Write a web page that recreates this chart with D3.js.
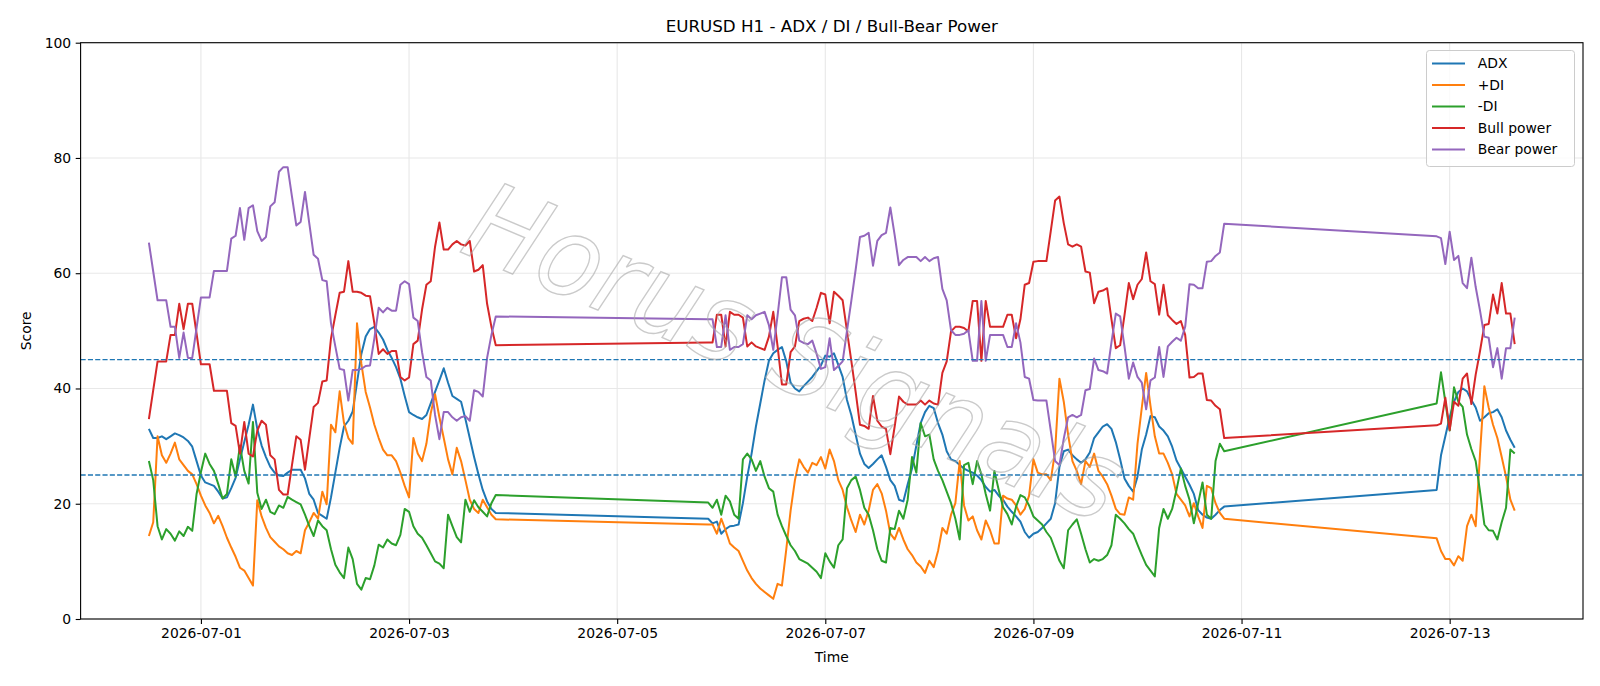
<!DOCTYPE html>
<html>
<head>
<meta charset="utf-8">
<script src="https://cdn.jsdelivr.net/npm/d3@7/dist/d3.min.js"></script>
<style>
  body { margin: 0; background: #ffffff; }
  svg text { font-family: "DejaVu Sans", "Liberation Sans", sans-serif; fill: #000; }
</style>
</head>
<body>
<svg id="chart" width="1600" height="686"></svg>
<script>
// Hourly bars (UTC), three blocks separated by the weekends
const segmentStarts = ["2026-06-30T12:00:00Z", "2026-07-05T21:00:00Z", "2026-07-12T21:00:00Z"];
const segmentLengths = [81, 120, 19];

// ADX
const adx = [
  33.0, 31.4, 31.4, 31.7, 31.2, 31.7, 32.2, 31.9, 31.5, 30.9,
  29.9, 27.4, 24.9, 23.7, 23.4, 23.1, 22.1, 20.9, 21.1, 22.7,
  24.5, 27.7, 30.7, 33.7, 37.2, 33.0, 30.1, 28.1, 26.4, 25.4,
  24.9, 24.8, 25.4, 25.9, 25.9, 25.9, 24.4, 21.7, 20.7, 18.4,
  17.9, 17.4, 21.1, 25.4, 29.7, 33.4, 34.4, 36.0, 41.0, 46.0,
  49.0, 50.3, 50.7, 49.7, 48.5, 46.7, 45.3, 43.7, 41.7, 38.7,
  35.9, 35.4, 35.0, 34.7, 35.4, 37.4, 39.4, 41.4, 43.5, 41.0,
  38.7, 38.2, 37.7, 34.7, 31.4, 28.1, 25.1, 22.4, 20.4, 19.1,
  18.4,
  // week 2
  17.4, 16.6, 16.9, 14.8, 15.6, 16.1, 16.2, 16.4, 20.1, 24.7,
  28.7, 33.4, 37.4, 41.4, 44.8, 46.1, 46.7, 47.2, 44.7, 41.0,
  40.0, 39.5, 40.4, 41.2, 42.0, 43.0, 44.0, 45.7, 45.5, 46.1,
  44.1, 42.0, 38.0, 35.4, 32.0, 28.7, 26.9, 26.2, 26.9, 27.7,
  28.4, 26.4, 24.1, 23.1, 20.7, 20.4, 23.4, 26.1, 30.1, 34.0,
  35.9, 37.0, 36.6, 34.0, 32.0, 29.1, 27.7, 27.4, 26.7, 26.1,
  25.7, 25.4, 24.9, 24.1, 22.9, 22.1, 22.4, 21.4, 20.7, 19.5,
  18.6, 17.8, 16.9, 15.1, 14.1, 14.8, 15.1, 15.8, 16.6, 17.4,
  20.1,
  26.4, 29.1, 29.4, 28.4, 27.7, 27.1, 27.7, 28.9, 31.4, 32.4,
  33.4, 33.8, 33.0, 30.7, 27.7, 24.4, 23.1, 22.1, 24.7, 29.4,
  32.0, 35.2, 35.0, 33.4, 32.7, 31.7, 29.9, 27.5, 26.1, 24.7,
  23.3, 21.7, 18.9, 18.1, 17.6, 17.4, 18.1, 18.9, 19.5,
  // week 3
  22.4, 28.4, 31.7, 35.0, 37.7, 39.4, 40.0, 39.5, 38.0, 36.7,
  34.4, 35.0, 35.7, 35.9, 36.4, 35.0, 32.7, 31.1, 29.7
];

// +DI
const plusDI = [
  14.4, 16.8, 31.7, 28.4, 27.1, 28.7, 30.6, 27.7, 26.7, 25.7,
  25.1, 23.4, 21.4, 19.7, 18.4, 16.6, 17.9, 16.1, 14.1, 12.4,
  10.8, 8.9, 8.4, 7.1, 5.8, 20.6, 17.8, 15.8, 14.2, 13.4,
  12.6, 12.1, 11.4, 11.1, 11.8, 11.4, 15.4, 16.8, 18.4, 17.4,
  22.1, 19.9, 33.7, 32.4, 39.5, 34.0, 31.4, 30.4, 51.3, 44.3,
  39.4, 36.7, 33.7, 31.4, 29.4, 28.4, 28.4, 27.4, 25.4, 23.1,
  21.1, 31.4, 28.7, 27.4, 30.4, 35.7, 39.0, 35.0, 31.4, 27.7,
  25.1, 29.7, 27.4, 24.1, 20.7, 19.1, 18.4, 20.7, 19.4, 18.1,
  17.3,
  // week 2
  16.4, 16.4, 14.8, 17.4, 15.4, 13.1, 12.4, 11.8, 10.1, 8.4,
  7.1, 6.1, 5.3, 4.7, 4.1, 3.5, 6.1, 5.8, 12.1, 18.8,
  24.1, 27.7, 26.4, 25.4, 27.1, 26.7, 28.1, 26.1, 29.4, 27.4,
  24.1, 22.4, 19.4, 17.1, 15.1, 18.1, 16.4, 18.8, 22.4, 23.4,
  21.8, 18.8, 14.8, 13.8, 15.8, 13.8, 12.1, 11.1, 9.8, 9.1,
  8.0, 10.1, 9.0, 11.8, 15.8, 14.8, 18.1, 20.1, 27.4, 19.7,
  17.1, 17.8, 15.4, 13.8, 17.1, 15.4, 13.1, 13.1, 21.4, 20.9,
  20.7, 19.7, 18.1, 19.1, 21.4, 27.7, 25.4, 25.1, 25.1, 24.1,
  29.1,
  41.7, 37.7, 32.0, 27.4, 25.7, 23.4, 27.4, 26.4, 28.7, 25.7,
  24.7, 23.4, 21.4, 19.1, 18.2, 18.1, 21.1, 20.7, 30.4, 36.7,
  42.7, 37.0, 31.7, 28.7, 28.7, 27.1, 25.1, 21.7, 20.7, 19.7,
  17.8, 20.1, 17.8, 15.8, 23.1, 22.7, 20.1, 18.4, 17.4,
  // week 3
  14.0, 11.8, 10.4, 10.4, 9.3, 10.9, 10.1, 16.1, 18.1, 16.1,
  28.7, 40.4, 36.7, 33.7, 31.4, 28.1, 24.7, 20.7, 18.8
];

// -DI
const minusDI = [
  27.4, 24.1, 16.1, 13.8, 15.6, 14.8, 13.6, 15.2, 14.4, 16.0,
  15.3, 21.7, 25.5, 28.7, 26.9, 25.7, 23.4, 20.9, 21.7, 27.7,
  24.7, 30.1, 25.7, 23.5, 34.2, 21.9, 19.1, 20.7, 18.6, 18.2,
  19.7, 19.3, 21.2, 20.7, 20.3, 19.9, 18.1, 16.1, 14.4, 17.1,
  16.1, 15.4, 12.1, 9.4, 8.1, 7.1, 12.4, 10.4, 6.1, 5.1,
  7.1, 6.9, 9.3, 12.9, 12.4, 13.8, 13.1, 12.8, 14.6, 19.1,
  18.6, 16.1, 14.8, 14.1, 12.8, 11.4, 10.0, 9.6, 8.8, 18.1,
  16.1, 14.2, 13.3, 20.7, 18.6, 20.6, 19.4, 18.6, 17.8, 20.1,
  21.5,
  // week 2
  20.2, 19.3, 20.7, 18.1, 21.4, 20.4, 18.1, 17.4, 27.7, 28.7,
  27.7, 25.7, 27.4, 24.7, 22.7, 22.1, 18.1, 16.1, 14.4, 12.8,
  11.8, 10.4, 10.0, 9.6, 8.9, 8.2, 7.1, 11.4, 10.0, 8.9,
  12.8, 13.8, 22.7, 24.1, 24.7, 22.4, 19.3, 18.1, 15.4, 12.1,
  10.1, 9.8, 15.8, 15.6, 18.8, 17.4, 20.7, 28.1, 25.4, 34.0,
  31.7, 32.0, 27.7, 25.7, 24.1, 22.1, 20.1, 17.4, 13.8, 26.7,
  27.1, 23.4, 27.4, 25.1, 21.7, 18.8, 25.7, 22.4, 19.4, 18.2,
  16.4, 19.5, 21.5, 21.1, 19.7, 17.8, 17.1, 16.4, 15.1, 14.1,
  12.1,
  10.1, 8.8, 15.4, 16.4, 17.3, 14.8, 12.1, 9.8, 10.4, 10.1,
  10.4, 11.1, 12.8, 18.1, 17.4, 16.6, 15.6, 14.8, 12.9, 11.1,
  9.4, 8.4, 7.4, 15.8, 19.1, 17.4, 19.1, 22.4, 26.1, 23.1,
  20.7, 16.6, 20.1, 23.7, 18.1, 17.4, 27.4, 30.4, 29.1,
  // week 3
  37.4, 42.8, 37.7, 32.7, 40.2, 37.7, 36.8, 32.0, 29.5, 27.4,
  22.1, 16.4, 15.4, 15.3, 13.8, 16.8, 19.3, 29.4, 28.7
];

// Bull power
const bullPower = [
  34.7, 39.7, 44.7, 44.7, 44.7, 49.3, 49.3, 54.7, 50.3, 54.7,
  54.7, 49.5, 44.2, 44.2, 44.2, 39.6, 39.6, 39.6, 39.6, 34.0,
  33.5, 28.7, 34.2, 28.7, 28.2, 32.7, 34.4, 33.7, 28.4, 27.7,
  22.4, 21.6, 21.6, 26.7, 31.7, 31.1, 25.9, 31.4, 36.8, 37.5,
  41.2, 41.4, 48.7, 52.7, 56.6, 56.8, 62.1, 56.8, 56.8, 56.6,
  56.1, 56.0, 51.3, 46.0, 46.8, 46.0, 46.5, 46.5, 42.0, 41.4,
  41.9, 47.7, 48.3, 53.7, 58.0, 58.6, 64.6, 68.8, 64.1, 64.1,
  65.0, 65.6, 65.0, 64.8, 65.6, 60.3, 60.6, 61.4, 54.7, 50.7,
  47.5,
  // week 2
  48.0, 48.0, 52.8, 52.8, 47.3, 53.3, 52.8, 52.8, 52.3, 47.3,
  48.0, 47.3, 47.0, 46.7, 49.0, 53.3, 47.3, 40.7, 40.7, 46.3,
  47.3, 51.7, 52.1, 52.3, 51.7, 54.0, 56.6, 56.3, 51.3, 56.8,
  56.1, 55.3, 50.0, 44.8, 39.4, 33.7, 33.5, 33.0, 38.7, 34.4,
  33.4, 33.0, 28.6, 33.4, 38.6, 37.7, 37.2, 37.2, 37.2, 37.9,
  37.2, 37.9, 37.4, 37.2, 42.7, 44.7, 49.9, 50.7, 50.7, 50.5,
  49.9, 55.2, 55.2, 44.8, 55.2, 50.7, 50.7, 50.7, 50.7, 52.8,
  52.8, 48.7, 52.0, 58.0, 58.3, 62.0, 62.1, 62.1, 62.1, 67.3,
  72.6,
  73.3, 68.7, 65.0, 64.6, 65.0, 64.6, 60.3, 60.1, 54.8, 56.8,
  57.0, 57.4, 52.0, 47.0, 47.5, 52.7, 58.3, 55.5, 58.0, 59.0,
  63.6, 58.6, 58.1, 52.8, 58.0, 52.7, 51.9, 51.2, 51.7, 49.3,
  41.9, 42.0, 42.6, 42.6, 38.0, 37.9, 37.0, 36.4, 31.4,
  // week 3
  33.6, 33.9, 38.4, 32.8, 37.7, 37.0, 41.7, 42.6, 37.3, 42.4,
  46.5, 51.0, 51.2, 56.3, 53.0, 58.3, 53.0, 53.0, 47.7
];

// Bear power
const bearPower = [
  65.3, 60.3, 55.3, 55.3, 55.3, 50.7, 50.7, 45.3, 49.7, 45.3,
  45.3, 50.5, 55.8, 55.8, 55.8, 60.4, 60.4, 60.4, 60.4, 66.0,
  66.5, 71.3, 65.8, 71.3, 71.8, 67.3, 65.6, 66.3, 71.6, 72.3,
  77.6, 78.4, 78.4, 73.3, 68.3, 68.9, 74.1, 68.6, 63.2, 62.5,
  58.8, 58.6, 51.3, 47.3, 43.4, 43.2, 37.9, 43.2, 43.2, 43.4,
  43.9, 44.0, 48.7, 54.0, 53.2, 54.0, 53.5, 53.5, 58.0, 58.6,
  58.1, 52.3, 51.7, 46.3, 42.0, 41.4, 35.4, 31.2, 35.9, 35.9,
  35.0, 34.4, 35.0, 35.2, 34.4, 39.7, 39.4, 38.6, 45.3, 49.3,
  52.5,
  // week 2
  52.0, 52.0, 47.2, 47.2, 52.7, 46.7, 47.2, 47.2, 47.7, 52.7,
  52.0, 52.7, 53.0, 53.3, 51.0, 46.7, 52.7, 59.3, 59.3, 53.7,
  52.7, 48.3, 47.9, 47.7, 48.3, 46.0, 43.4, 43.7, 48.7, 43.2,
  43.9, 44.7, 50.0, 55.2, 60.6, 66.3, 66.5, 67.0, 61.3, 65.6,
  66.6, 67.0, 71.4, 66.6, 61.4, 62.3, 62.8, 62.8, 62.8, 62.1,
  62.8, 62.1, 62.6, 62.8, 57.3, 55.3, 50.1, 49.3, 49.3, 49.5,
  50.1, 44.8, 44.8, 55.2, 44.8, 49.3, 49.3, 49.3, 49.3, 47.2,
  47.2, 51.3, 48.0, 42.0, 41.7, 38.0, 37.9, 37.9, 37.9, 32.7,
  27.4,
  26.7, 31.3, 35.0, 35.4, 35.0, 35.4, 39.7, 39.9, 45.2, 43.2,
  43.0, 42.6, 48.0, 53.0, 52.5, 47.3, 41.7, 44.5, 42.0, 41.0,
  36.4, 41.4, 41.9, 47.2, 42.0, 47.3, 48.1, 48.8, 48.3, 50.7,
  58.1, 58.0, 57.4, 57.4, 62.0, 62.1, 63.0, 63.6, 68.6,
  // week 3
  66.4, 66.1, 61.6, 67.2, 62.3, 63.0, 58.3, 57.4, 62.7, 57.6,
  53.5, 49.0, 48.8, 43.7, 47.0, 41.7, 47.0, 47.0, 52.3
];

const seriesNames = ["ADX", "+DI", "-DI", "Bull power", "Bear power"];
const seriesColors = ["#1f77b4", "#ff7f0e", "#2ca02c", "#d62728", "#9467bd"];
const thresholds = [25, 45];
const yTicks = [0, 20, 40, 60, 80, 100];
const xTickLabels = ["2026-07-01", "2026-07-03", "2026-07-05", "2026-07-07", "2026-07-09", "2026-07-11", "2026-07-13"];

// Timestamps of every bar
const times = [];
segmentStarts.forEach(function (s, i) {
  const start = new Date(s).getTime();
  for (let k = 0; k < segmentLengths[i]; k++) {
    times.push(new Date(start + k * 3600 * 1000));
  }
});

const allSeries = [adx, plusDI, minusDI, bullPower, bearPower];

// Plot area
const plotLeft = 80.6, plotRight = 1583, plotTop = 42.7, plotBottom = 619;

const svg = d3.select("#chart");

// X domain with 5% margins, like the original
const tFirst = times[0].getTime();
const tLast = times[times.length - 1].getTime();
const tPad = (tLast - tFirst) * 0.05;
const x = d3.scaleUtc()
  .domain([new Date(tFirst - tPad), new Date(tLast + tPad)])
  .range([plotLeft, plotRight]);

const y = d3.scaleLinear()
  .domain([0, 100])
  .range([plotBottom, plotTop]);

const xTickDates = xTickLabels.map(function (d) { return new Date(d + "T00:00:00Z"); });

// Grid
const grid = svg.append("g");
grid.selectAll(".vgrid")
  .data(xTickDates)
  .enter().append("line")
  .attr("x1", d => x(d)).attr("x2", d => x(d))
  .attr("y1", plotTop).attr("y2", plotBottom)
  .attr("stroke", "#e8e8e8").attr("stroke-width", 1.1);
grid.selectAll(".hgrid")
  .data(yTicks)
  .enter().append("line")
  .attr("x1", plotLeft).attr("x2", plotRight)
  .attr("y1", d => y(d)).attr("y2", d => y(d))
  .attr("stroke", "#e8e8e8").attr("stroke-width", 1.1);

// Series lines
const line = d3.line()
  .x((d, i) => x(times[i]))
  .y(d => y(d));

allSeries.forEach(function (values, k) {
  svg.append("path")
    .datum(values)
    .attr("fill", "none")
    .attr("stroke", seriesColors[k])
    .attr("stroke-width", 2)
    .attr("stroke-linejoin", "round")
    .attr("d", line);
});

// Threshold lines
svg.selectAll(".thr")
  .data(thresholds)
  .enter().append("line")
  .attr("x1", plotLeft).attr("x2", plotRight)
  .attr("y1", d => y(d)).attr("y2", d => y(d))
  .attr("stroke", "#1f77b4")
  .attr("stroke-width", 1.4)
  .attr("stroke-dasharray", "5.1,2.2");

// Axes
const xAxis = d3.axisBottom(x)
  .tickValues(xTickDates)
  .tickFormat(d3.utcFormat("%Y-%m-%d"))
  .tickSize(4.9)
  .tickPadding(4.5);
const gx = svg.append("g")
  .attr("transform", "translate(0," + plotBottom + ")")
  .call(xAxis);

const yAxis = d3.axisLeft(y)
  .tickValues(yTicks)
  .tickSize(4.9)
  .tickPadding(4.5);
const gy = svg.append("g")
  .attr("transform", "translate(" + plotLeft + ",0)")
  .call(yAxis);

[gx, gy].forEach(function (g) {
  g.select(".domain").remove();
  g.selectAll(".tick line").attr("stroke", "#000").attr("stroke-width", 1.1);
  g.selectAll(".tick text")
    .style("font-family", "'DejaVu Sans', sans-serif")
    .style("font-size", "13.9px")
    .attr("fill", "#000");
});

// Frame
svg.append("rect")
  .attr("x", plotLeft).attr("y", plotTop)
  .attr("width", plotRight - plotLeft).attr("height", plotBottom - plotTop)
  .attr("fill", "none").attr("stroke", "#000").attr("stroke-width", 1.1);

// Title and axis labels
svg.append("text")
  .attr("x", (plotLeft + plotRight) / 2).attr("y", 32)
  .attr("text-anchor", "middle")
  .style("font-size", "16.7px")
  .text("EURUSD H1 - ADX / DI / Bull-Bear Power");

svg.append("text")
  .attr("x", (plotLeft + plotRight) / 2).attr("y", 661.5)
  .attr("text-anchor", "middle")
  .style("font-size", "13.9px")
  .text("Time");

svg.append("text")
  .attr("transform", "translate(31," + (plotTop + plotBottom) / 2 + ") rotate(-90)")
  .attr("text-anchor", "middle")
  .style("font-size", "13.9px")
  .text("Score");

// Legend
const legend = svg.append("g");
legend.append("rect")
  .attr("x", 1426.5).attr("y", 50.5)
  .attr("width", 148).attr("height", 116)
  .attr("rx", 3)
  .attr("fill", "#fff").attr("fill-opacity", 0.8)
  .attr("stroke", "#cccccc").attr("stroke-width", 1);

seriesNames.forEach(function (name, i) {
  const ly = 63.5 + i * 21.5;
  legend.append("line")
    .attr("x1", 1432).attr("x2", 1465)
    .attr("y1", ly).attr("y2", ly)
    .attr("stroke", seriesColors[i]).attr("stroke-width", 2);
  legend.append("text")
    .attr("x", 1477.7).attr("y", ly)
    .attr("dy", "0.35em")
    .style("font-size", "13.9px")
    .text(name);
});

// Watermark
svg.append("text")
  .attr("transform", "translate(795,352) rotate(23)")
  .attr("text-anchor", "middle")
  .attr("dy", "0.35em")
  .attr("textLength", 700)
  .attr("lengthAdjust", "spacingAndGlyphs")
  .style("font-size", "110px")
  .style("font-style", "italic")
  .style("fill", "none")
  .style("stroke", "#a8a8a8")
  .style("stroke-width", 1.4)
  .style("opacity", 0.6)
  .text("Horus Signals");
</script>
</body>
</html>
